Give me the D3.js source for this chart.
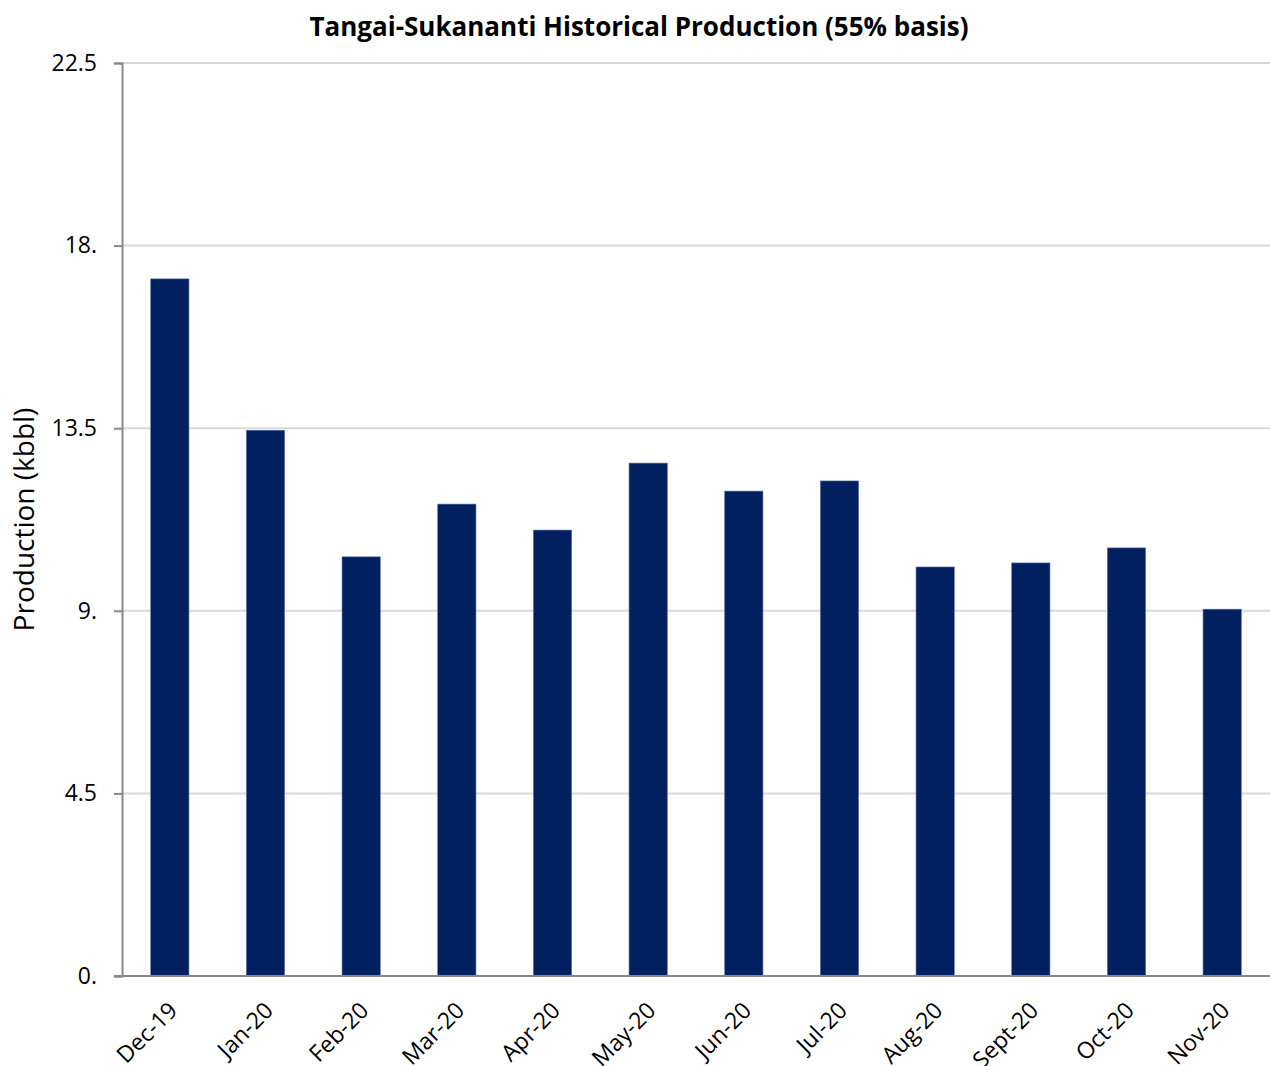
<!DOCTYPE html>
<meta charset="utf-8">
<script src="https://d3js.org/d3.v7.min.js"></script>
<style>
  body { margin: 0; background: #fff; }
  text { font-family: "Open Sans", sans-serif; }
</style>
<div id="my_dataviz"></div>
<script>

// data
var months = ["Dec-19", "Jan-20", "Feb-20", "Mar-20", "Apr-20", "May-20",
              "Jun-20", "Jul-20", "Aug-20", "Sept-20", "Oct-20", "Nov-20"];
var production = [17.18, 13.45, 10.33, 11.63, 10.99, 12.64,
                  11.95, 12.20, 10.08, 10.18, 10.55, 9.04];
var yTicks = [0, 4.5, 9, 13.5, 18, 22.5];
var yTickLabels = ["0.", "4.5", "9.", "13.5", "18.", "22.5"];

var width = 1270, height = 1066;
var margin = {top: 63, right: 0, bottom: 90, left: 122};
var font = "'Open Sans', sans-serif";

var svg = d3.select("#my_dataviz")
  .append("svg")
    .attr("width", width)
    .attr("height", height);

var x = d3.scaleBand()
  .domain(months)
  .range([margin.left, width - margin.right])
  .paddingInner(0.6)
  .paddingOuter(0.3);

var y = d3.scaleLinear()
  .domain([0, 22.5])
  .range([height - margin.bottom, margin.top]);

// gridlines
svg.append("g")
  .selectAll("line")
  .data(yTicks.filter(function(d) { return d > 0; }))
  .enter()
  .append("line")
    .attr("x1", margin.left)
    .attr("x2", width - margin.right)
    .attr("y1", function(d) { return y(d); })
    .attr("y2", function(d) { return y(d); })
    .attr("stroke", "#d9d9d9")
    .attr("stroke-width", 2);

// bars
svg.append("g")
  .selectAll("rect")
  .data(production)
  .enter()
  .append("rect")
    .attr("x", function(d, i) { return x(months[i]); })
    .attr("y", function(d) { return y(d); })
    .attr("width", x.bandwidth())
    .attr("height", function(d) { return y(0) - y(d); })
    .attr("fill", "#002060")
    .attr("stroke", "#5b75a8")
    .attr("stroke-width", 0.6);

// y axis
var yAxis = svg.append("g")
  .attr("transform", "translate(" + margin.left + ",0)")
  .call(d3.axisLeft(y).tickValues(yTicks).tickSize(8).tickPadding(17)
    .tickFormat(function(d, i) { return yTickLabels[i]; }));
yAxis.select(".domain").attr("stroke", "#888").attr("stroke-width", 2);
yAxis.selectAll(".tick line").attr("stroke", "#888").attr("stroke-width", 2);
yAxis.selectAll("text")
  .attr("font-size", "23px")
  .attr("fill", "#000")
  .attr("font-family", font);

// x axis
var xAxis = svg.append("g")
  .attr("transform", "translate(0," + y(0) + ")")
  .call(d3.axisBottom(x).tickSize(0).tickSizeOuter(0));
xAxis.select(".domain").attr("stroke", "#888").attr("stroke-width", 2)
  .attr("d", "M" + (margin.left - 8) + ",0H" + (width - margin.right));
xAxis.selectAll("text")
  .attr("font-size", "23px")
  .attr("fill", "#000")
  .attr("font-family", font)
  .attr("text-anchor", "end")
  .attr("x", 0)
  .attr("y", 0)
  .attr("dy", 0)
  .attr("transform", "translate(9,36) rotate(-45)");

// y axis title
svg.append("text")
  .attr("transform", "translate(34," + ((margin.top + y(0)) / 2) + ") rotate(-90)")
  .attr("text-anchor", "middle")
  .attr("font-size", "28px")
  .attr("font-family", font)
  .text("Production (kbbl)");

// chart title
svg.append("text")
  .attr("x", 639)
  .attr("y", 36)
  .attr("text-anchor", "middle")
  .attr("font-size", "26px")
  .attr("font-weight", "bold")
  .attr("font-family", font)
  .text("Tangai-Sukananti Historical Production (55% basis)");

</script>
